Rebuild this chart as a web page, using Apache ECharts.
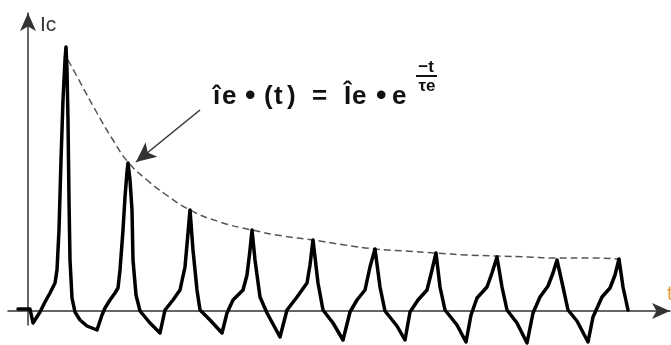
<!DOCTYPE html>
<html>
<head>
<meta charset="utf-8">
<script src="https://cdn.jsdelivr.net/npm/echarts@6/dist/echarts.min.js"></script>
<style>
  html, body { margin: 0; padding: 0; background: #fff; }
  #chart { width: 671px; height: 345px; }
</style>
</head>
<body>
<div id="chart"></div>
<script>
// collector current Ic(t): [t, Ic] (arbitrary units)
const currentWave = [
  [-10, 2], [2, 2], [5, -12], [12, -1], [17, 9], [22, 18], [27, 28], [29, 41],
  [31, 81], [33, 151], [35, 211], [37, 251], [38, 264], [39, 241], [40, 191],
  [41, 111], [42, 51], [44, 13], [47, -1], [52, -9], [59, -15], [69, -19],
  [74, -4], [77, 3], [82, 11], [87, 18], [90, 23], [92, 41], [95, 81], [97, 114],
  [99, 139], [100, 148], [102, 131], [104, 101], [105, 51], [108, 16], [112, 0],
  [122, -12], [132, -22], [137, 1], [145, 11], [152, 21], [157, 44], [160, 78],
  [162, 101], [165, 61], [169, 21], [172, 1], [182, -9], [194, -22], [199, -2],
  [205, 11], [215, 21], [219, 36], [222, 61], [224, 81], [227, 51], [232, 14],
  [239, -2], [252, -26], [259, 1], [269, 14], [279, 28], [282, 46], [285, 71],
  [290, 28], [295, 1], [305, -12], [315, -29], [322, -1], [329, 11], [337, 21],
  [342, 44], [347, 62], [352, 24], [357, 0], [369, -15], [377, -29], [382, -1],
  [390, 11], [399, 21], [404, 41], [408, 58], [412, 24], [417, 1], [429, -14],
  [438, -31], [443, -4], [449, 13], [459, 24], [464, 38], [469, 54], [474, 24],
  [479, 1], [489, -12], [499, -32], [505, -2], [512, 14], [520, 25], [525, 38],
  [529, 51], [535, 24], [540, 1], [549, -10], [560, -31], [565, -6], [574, 14],
  [582, 23], [587, 36], [591, 52], [595, 24], [600, 1]
];

// dashed envelope through the peaks
const envelope = [
  [40, 251], [52, 229], [69, 198], [85, 171], [100, 149], [119, 131], [137, 117],
  [162, 101], [192, 89], [224, 81], [255, 75], [285, 71], [317, 66], [347, 62],
  [377, 60], [408, 58], [439, 56], [469, 55], [499, 54], [529, 53], [562, 53],
  [592, 52]
];

// pointer from the formula to the envelope
const pointerFrom = [172, 201];
const pointerTo = [108, 149];

const fontFamily = '"Liberation Sans", Arial, sans-serif';
const ink = '#111';

// formula tokens, drawn one by one to keep the wide spacing of the original
const formulaTokens = [
  ['î', 213], ['e', 222], ['•', 245], ['(', 264], ['t', 274], [')', 287],
  ['=', 312], ['Î', 344], ['e', 352], ['•', 376], ['e', 392]
];

const chart = echarts.init(document.getElementById('chart'), null, { renderer: 'canvas' });

const graphics = formulaTokens.map(([ch, x]) => ({
  type: 'text',
  left: x,
  top: ch === '•' ? 82 : 84,
  style: {
    text: ch,
    font: 'bold ' + (ch === '•' ? 30 : 26) + 'px ' + fontFamily,
    fill: ink
  }
}));

graphics.push(
  { type: 'text', x: 426, y: 67, style: { text: '−t', font: 'bold 17px ' + fontFamily, fill: ink, align: 'center', verticalAlign: 'middle' } },
  { type: 'line', shape: { x1: 416, y1: 76, x2: 437, y2: 76 }, style: { stroke: ink, lineWidth: 2 } },
  { type: 'text', x: 427, y: 86, style: { text: 'τe', font: 'bold 17px ' + fontFamily, fill: ink, align: 'center', verticalAlign: 'middle' } },
  { type: 'text', x: 40, y: 25, style: { text: 'Ic', font: '21px ' + fontFamily, fill: '#333', verticalAlign: 'middle' } },
  { type: 'text', x: 667, y: 294, style: { text: 't', font: '20px ' + fontFamily, fill: '#e39b3a', verticalAlign: 'middle' } }
);

chart.setOption({
  backgroundColor: '#fff',
  animation: false,
  grid: { left: 8, right: 1, top: 13, bottom: 20 },
  xAxis: {
    type: 'value',
    min: -20,
    max: 642,
    axisLine: {
      onZero: true,
      symbol: ['none', 'arrow'],
      symbolSize: [12, 18],
      lineStyle: { color: '#333', width: 1.5 }
    },
    axisTick: { show: false },
    axisLabel: { show: false },
    splitLine: { show: false }
  },
  yAxis: {
    type: 'value',
    min: -14,
    max: 298,
    axisLine: {
      show: true,
      onZero: true,
      symbol: ['none', 'arrow'],
      symbolSize: [12, 18],
      lineStyle: { color: '#333', width: 1.5 }
    },
    axisTick: { show: false },
    axisLabel: { show: false },
    splitLine: { show: false }
  },
  graphic: graphics,
  series: [
    {
      name: 'envelope',
      type: 'line',
      data: envelope,
      smooth: 0.5,
      showSymbol: false,
      clip: false,
      lineStyle: { color: '#555', width: 1.5, type: [7, 4] },
      markLine: {
        silent: true,
        symbol: ['none', 'arrow'],
        symbolSize: [14, 20],
        label: { show: false },
        lineStyle: { color: '#333', width: 1.5, type: 'solid' },
        data: [[{ coord: pointerFrom }, { coord: pointerTo }]]
      }
    },
    {
      name: 'Ic',
      type: 'line',
      data: currentWave,
      showSymbol: false,
      clip: false,
      lineStyle: { color: '#000', width: 3.5, join: 'round', cap: 'round' }
    }
  ]
});
</script>
</body>
</html>
